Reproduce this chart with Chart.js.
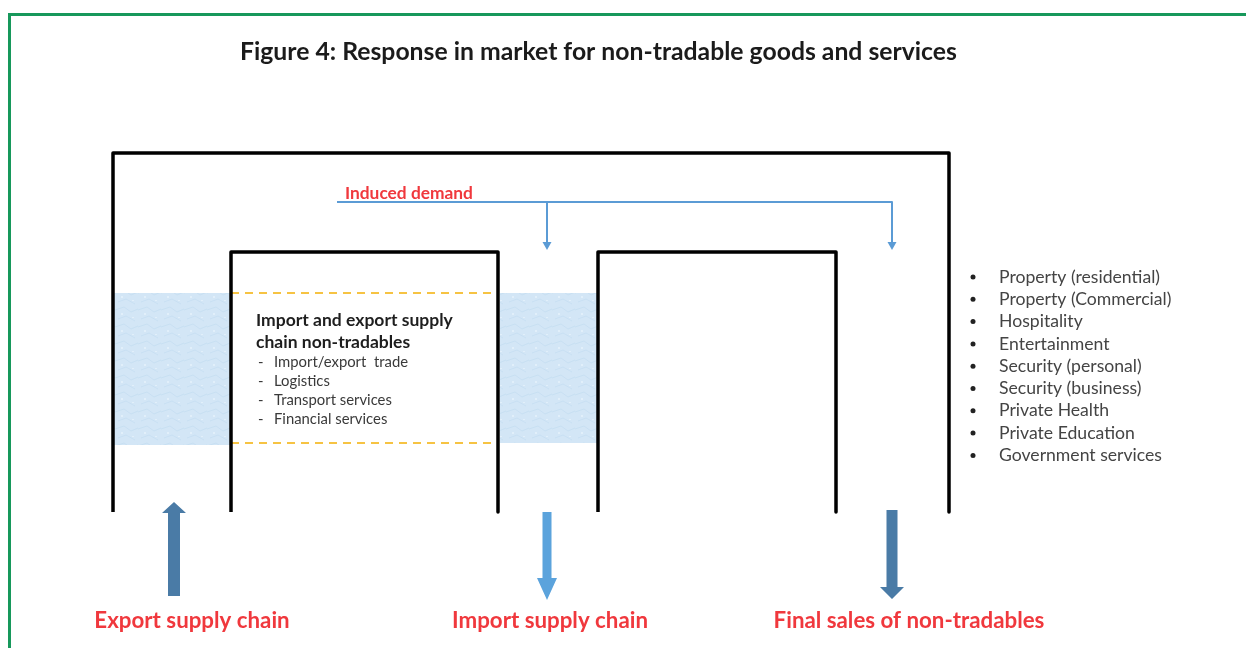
<!DOCTYPE html>
<html>
<head>
<meta charset="utf-8">
<script src="https://cdn.jsdelivr.net/npm/chart.js@4.4.1/dist/chart.umd.min.js"></script>
<style>
  html, body { margin: 0; padding: 0; background: #fff; }
  #wrap { width: 1246px; height: 648px; }
</style>
</head>
<body>
<div id="wrap"><canvas id="diagram" width="1246" height="648"></canvas></div>
<script>
// ---- diagram data (picture units: x to the right, y downwards) ----
const titleText = 'Figure 4: Response in market for non-tradable goods and services';

// black frames, open at the bottom
const outerFrame = [[113, 512], [113, 153], [949, 153], [949, 512]];
const leftFrame = [[231, 512], [231, 252], [498, 252], [498, 512]];
const rightFrame = [[598, 512], [598, 252], [836, 252], [836, 512]];

// induced demand flow
const inducedLine = [[337, 202], [892, 202], [892, 244]];
const inducedBranch = [[547, 202], [547, 244]];
const inducedTips = [[547, 250], [892, 250]];

// supply chain band
const bandLeft = [113, 293, 231, 445];   // x0, y0, x1, y1
const bandRight = [500, 293, 598, 443];
const dashTop = [[231, 293], [498, 293]];
const dashBottom = [[231, 443], [498, 443]];

// big arrows: [x, yTail, yTip]
const exportArrow = [174, 596, 502];
const importArrow = [547, 512, 600];
const finalArrow = [892, 510, 599];

// texts
const boxHeading = ['Import and export supply', 'chain non-tradables'];
const boxItems = ['Import/export  trade', 'Logistics', 'Transport services', 'Financial services'];
const bulletItems = ['Property (residential)', 'Property (Commercial)', 'Hospitality', 'Entertainment',
  'Security (personal)', 'Security (business)', 'Private Health', 'Private Education', 'Government services'];
const bottomLabels = ['Export supply chain', 'Import supply chain', 'Final sales of non-tradables'];
const bottomCenters = [192, 550, 909];
const inducedLabel = 'Induced demand';

const FONT = 'Lato, "Open Sans", sans-serif';
const RED = '#f0383d';

function pts(arr) { return arr.map(p => ({ x: p[0], y: p[1] })); }

function lineSet(arr, color, width, dash) {
  return {
    type: 'line', data: pts(arr), borderColor: color, borderWidth: width,
    borderDash: dash || [], pointRadius: 0, fill: false, tension: 0,
    borderJoinStyle: 'round', borderCapStyle: 'butt'
  };
}

// size a font so the text spans the measured width
function fitSize(ctx, text, weight, target) {
  ctx.font = weight + ' 20px ' + FONT;
  return 20 * target / ctx.measureText(text).width;
}

// soft paper-like texture for the blue bands (fixed pattern, no randomness)
function bandPattern(ctx) {
  const c = document.createElement('canvas');
  c.width = 23; c.height = 17;
  const g = c.getContext('2d');
  g.fillStyle = '#d3e6f6';
  g.fillRect(0, 0, 23, 17);
  g.strokeStyle = 'rgba(175, 208, 236, 0.3)';
  g.lineWidth = 1;
  g.beginPath();
  g.moveTo(0, 4); g.lineTo(9, 1); g.lineTo(16, 6); g.lineTo(23, 3);
  g.moveTo(3, 13); g.lineTo(11, 10); g.lineTo(20, 15);
  g.stroke();
  g.fillStyle = 'rgba(240, 247, 253, 0.5)';
  g.fillRect(6, 7, 2, 2);
  g.fillRect(17, 11, 2, 1);
  return ctx.createPattern(c, 'repeat');
}

const diagramPlugin = {
  id: 'diagram',
  beforeDatasetsDraw(chart) {
    const { ctx, scales: { x, y } } = chart;
    ctx.save();
    // green page border
    ctx.strokeStyle = '#17985b';
    ctx.lineWidth = 3;
    ctx.strokeRect(x.getPixelForValue(9.5), y.getPixelForValue(14.5), 1300, 700);
    // light blue bands
    ctx.fillStyle = bandPattern(ctx);
    [bandLeft, bandRight].forEach(b => {
      const x0 = x.getPixelForValue(b[0]), y0 = y.getPixelForValue(b[1]);
      ctx.fillRect(x0, y0, x.getPixelForValue(b[2]) - x0, y.getPixelForValue(b[3]) - y0);
    });
    ctx.restore();
  },
  afterDatasetsDraw(chart) {
    const { ctx, scales: { x, y } } = chart;
    const px = v => x.getPixelForValue(v);
    const py = v => y.getPixelForValue(v);
    ctx.save();

    // small arrow heads on induced demand
    ctx.fillStyle = '#5b9bd5';
    inducedTips.forEach(t => {
      ctx.beginPath();
      ctx.moveTo(px(t[0]), py(t[1]));
      ctx.lineTo(px(t[0] - 4.5), py(t[1] - 8));
      ctx.lineTo(px(t[0] + 4.5), py(t[1] - 8));
      ctx.closePath();
      ctx.fill();
    });

    // big block arrows
    function blockArrow(a, shaft, head, headLen, color) {
      const dir = a[2] > a[1] ? 1 : -1;
      const base = a[2] - dir * headLen;
      ctx.fillStyle = color;
      ctx.beginPath();
      ctx.moveTo(px(a[0] - shaft / 2), py(a[1]));
      ctx.lineTo(px(a[0] - shaft / 2), py(base));
      ctx.lineTo(px(a[0] - head / 2), py(base));
      ctx.lineTo(px(a[0]), py(a[2]));
      ctx.lineTo(px(a[0] + head / 2), py(base));
      ctx.lineTo(px(a[0] + shaft / 2), py(base));
      ctx.lineTo(px(a[0] + shaft / 2), py(a[1]));
      ctx.closePath();
      ctx.fill();
    }
    blockArrow(exportArrow, 12, 24, 11, '#4a7ba6');
    blockArrow(importArrow, 9, 20, 22, '#5ba3dc');
    blockArrow(finalArrow, 11, 24, 12, '#4a7ba6');

    // texts
    ctx.textBaseline = 'middle';
    ctx.textAlign = 'left';

    let s = fitSize(ctx, titleText, 'bold', 717);
    ctx.font = 'bold ' + s + 'px ' + FONT;
    ctx.fillStyle = '#1b1b1b';
    ctx.fillText(titleText, px(240), py(52));

    s = fitSize(ctx, inducedLabel, 'bold', 128);
    ctx.font = 'bold ' + s + 'px ' + FONT;
    ctx.fillStyle = RED;
    ctx.fillText(inducedLabel, px(345), py(193));

    s = fitSize(ctx, boxHeading[0], 'bold', 197);
    ctx.font = 'bold ' + s + 'px ' + FONT;
    ctx.fillStyle = '#1e1e1e';
    ctx.fillText(boxHeading[0], px(256), py(320));
    ctx.fillText(boxHeading[1], px(256), py(342));

    s = fitSize(ctx, boxItems[2], 'normal', 118);
    ctx.font = s + 'px ' + FONT;
    ctx.fillStyle = '#3a3a3a';
    const itemY = [362, 381, 400, 419];
    boxItems.forEach((t, i) => {
      ctx.fillText('-', px(258), py(itemY[i]));
      ctx.fillText(t, px(274), py(itemY[i]));
    });

    s = fitSize(ctx, bulletItems[0], 'normal', 161);
    ctx.font = s + 'px ' + FONT;
    bulletItems.forEach((t, i) => {
      const yy = 277 + i * 22.3;
      ctx.fillStyle = '#222';
      ctx.beginPath();
      ctx.arc(px(973), py(yy), 2.5, 0, Math.PI * 2);
      ctx.fill();
      ctx.fillStyle = '#444';
      ctx.fillText(t, px(999), py(yy));
    });

    s = fitSize(ctx, bottomLabels[2], 'bold', 271);
    ctx.font = 'bold ' + s + 'px ' + FONT;
    ctx.fillStyle = RED;
    ctx.textAlign = 'center';
    bottomLabels.forEach((t, i) => ctx.fillText(t, px(bottomCenters[i]), py(621)));

    ctx.restore();
  }
};

new Chart(document.getElementById('diagram'), {
  type: 'scatter',
  data: {
    datasets: [
      lineSet(outerFrame, '#000', 3.5),
      lineSet(leftFrame, '#000', 3.5),
      lineSet(rightFrame, '#000', 3.5),
      lineSet(dashTop, '#f6c343', 2, [8, 6]),
      lineSet(dashBottom, '#f6c343', 2, [8, 6]),
      lineSet(inducedLine, '#5b9bd5', 2),
      lineSet(inducedBranch, '#5b9bd5', 2)
    ]
  },
  options: {
    responsive: false,
    animation: false,
    events: [],
    layout: { padding: 0 },
    plugins: { legend: { display: false }, tooltip: { enabled: false } },
    scales: {
      x: { type: 'linear', min: 0, max: 1246, display: false },
      y: { type: 'linear', min: 0, max: 648, reverse: true, display: false }
    }
  },
  plugins: [diagramPlugin]
});
</script>
</body>
</html>
